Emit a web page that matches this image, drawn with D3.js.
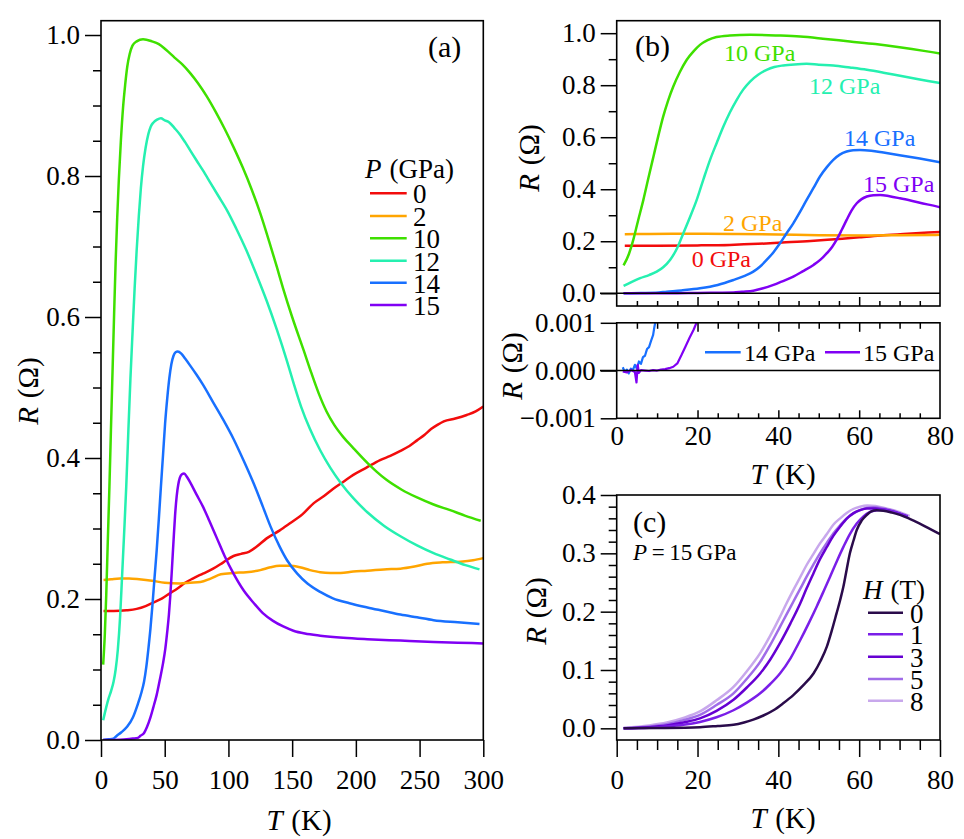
<!DOCTYPE html>
<html><head><meta charset="utf-8">
<script src="https://cdn.jsdelivr.net/npm/d3@7"></script>
<style>
body{margin:0;background:#fff}
svg{display:block}
svg text, svg tspan{font-family:'Liberation Serif', serif !important}
</style>
</head><body><script>
// ---------------- DATA ----------------
// R(T) at pressures (GPa), [T (K), R (ohm)]
const p0 = [[2,0.183],[10,0.183],[20,0.184],[28,0.186],[35,0.19],[41,0.195],[48,0.201],[54,0.208],[60,0.215],[66,0.223],[72,0.229],[80,0.236],[88,0.243],[96,0.252],[104,0.261],[110,0.264],[116,0.267],[122,0.274],[130,0.286],[140,0.297],[148,0.307],[158,0.32],[167,0.336],[175,0.346],[182,0.356],[190,0.366],[198,0.376],[208,0.386],[219,0.397],[227,0.403],[235,0.41],[242,0.417],[248,0.425],[254,0.433],[259,0.441],[264,0.447],[269,0.452],[278,0.456],[287,0.461],[294,0.466],[300,0.473]];
const p2 = [[2,0.227],[8,0.228],[15,0.229],[22,0.229],[30,0.228],[40,0.226],[50,0.223],[62,0.222],[70,0.223],[78,0.224],[86,0.229],[94,0.235],[104,0.237],[114,0.238],[125,0.241],[133,0.245],[140,0.247],[148,0.247],[156,0.245],[164,0.241],[172,0.238],[180,0.237],[188,0.237],[198,0.239],[209,0.24],[222,0.242],[235,0.243],[246,0.246],[256,0.25],[268,0.252],[282,0.253],[292,0.255],[300,0.258]];
const p10 = [[1.7,0.107],[3,0.15],[4.1,0.205],[5.3,0.28],[6.6,0.359],[7.8,0.44],[9.1,0.526],[10.3,0.605],[11.5,0.679],[12.7,0.74],[14,0.795],[15.6,0.85],[17.3,0.897],[19,0.93],[20.6,0.955],[22.5,0.973],[24.7,0.985],[28,0.991],[33,0.994],[40,0.991],[45.4,0.987],[51,0.979],[57.7,0.968],[64,0.958],[70,0.946],[76,0.932],[83,0.913],[90,0.891],[97,0.867],[104,0.841],[111,0.813],[118,0.782],[125,0.747],[132,0.707],[138,0.671],[143,0.64],[150,0.6],[159,0.553],[165,0.521],[171,0.491],[177,0.466],[183,0.447],[190,0.43],[198,0.414],[209,0.393],[216,0.381],[224,0.369],[236,0.355],[248,0.344],[261,0.334],[274,0.326],[286,0.318],[298,0.311]];
const p12 = [[1.7,0.028],[3.5,0.042],[5.8,0.058],[8,0.07],[9.9,0.083],[11.5,0.1],[13.2,0.128],[15,0.175],[16.5,0.231],[18.2,0.295],[19.8,0.359],[21.5,0.44],[23.1,0.513],[24.8,0.58],[26.4,0.641],[28,0.695],[29.7,0.744],[31.3,0.783],[33,0.814],[35,0.84],[37.1,0.859],[39,0.87],[41.2,0.876],[44,0.88],[47,0.882],[50,0.879],[53.6,0.876],[57.7,0.868],[61.9,0.859],[66,0.848],[70.1,0.836],[75,0.822],[80,0.808],[86,0.79],[92,0.772],[99,0.751],[106,0.726],[114,0.695],[122,0.66],[130,0.623],[138,0.582],[145.7,0.539],[151,0.507],[157,0.473],[164,0.441],[172,0.411],[180,0.386],[188,0.365],[198,0.343],[209,0.323],[222,0.304],[235,0.289],[248,0.276],[261,0.265],[274,0.256],[286,0.248],[297,0.242]];
const p14 = [[1.7,0],[6,0.001],[9.7,0.002],[12.4,0.006],[16,0.011],[20.6,0.019],[25,0.032],[28.9,0.051],[31.5,0.066],[33.8,0.083],[35.5,0.103],[37.1,0.128],[38.8,0.158],[40.4,0.192],[42,0.23],[43.7,0.269],[45.4,0.314],[47,0.359],[48.7,0.405],[50.3,0.449],[52,0.485],[53.6,0.513],[55.2,0.533],[56.9,0.545],[58.5,0.55],[60.2,0.551],[63,0.548],[66,0.541],[70,0.531],[75,0.518],[80,0.504],[88,0.479],[96,0.454],[104,0.427],[112,0.396],[120,0.363],[127,0.331],[133,0.303],[140,0.275],[146,0.255],[154,0.236],[162,0.222],[172,0.21],[182,0.201],[195,0.194],[209,0.188],[222,0.183],[235,0.178],[248,0.174],[261,0.17],[280,0.167],[297,0.1645]];
const p15 = [[1.7,0],[15,0.0005],[20,0.001],[25,0.002],[28.9,0.003],[31,0.006],[33.8,0.01],[36,0.018],[38.8,0.032],[41,0.046],[43.7,0.064],[46,0.084],[48.7,0.109],[50.5,0.13],[52,0.154],[53.3,0.178],[54.4,0.205],[55.7,0.244],[56.9,0.282],[58.1,0.318],[59.4,0.346],[60.6,0.362],[61.9,0.372],[63.5,0.377],[65.2,0.378],[67.5,0.373],[70.1,0.365],[75,0.348],[80,0.331],[85,0.311],[91,0.286],[97,0.261],[104,0.236],[112,0.212],[120,0.194],[127,0.18],[135,0.169],[143,0.161],[151,0.155],[160,0.151],[172,0.148],[190,0.145],[209,0.143],[235,0.141],[261,0.139],[280,0.138],[300,0.137]];
const pressureLabels = ["0","2","10","12","14","15"];

// low-resistance zoom (ohm), 14 and 15 GPa
const low14 = [[1.5,0.00007],[2,-0.00003],[2.5,0.00002],[3,-0.00006],[3.5,0.00004],[4,0.00001],[4.5,0.00012],[5,0.00004],[5.5,0.00019],[6,0.00014],[6.5,0.00028],[7,0.00031],[7.5,0.00045],[8,0.00049],[8.5,0.00062],[9,0.00074],[9.3,0.0009],[9.6,0.00103]];
const low15 = [[1.5,-0.00002],[2.5,-0.00004],[3.5,0.00001],[4.5,-0.00003],[4.9,-0.00025],[5.2,0.00012],[5.5,-0.00005],[6,0.00001],[7,0],[8,-0.00001],[9,0.00001],[10,0],[11,0.00002],[12,0.00003],[13,0.00005],[14,0.00008],[15,0.00015],[16,0.00032],[17,0.0005],[18,0.00068],[19,0.00085],[19.8,0.00101]];

// R(T) at 15 GPa in field H (T)
const h0 = [[1.7,0],[10,0.0005],[20.6,0.002],[25,0.004],[28.9,0.006],[31.5,0.01],[33.8,0.015],[36.3,0.022],[38.8,0.031],[41.2,0.043],[43.7,0.057],[46.2,0.074],[48.7,0.094],[50.4,0.115],[52,0.14],[53.2,0.167],[54.4,0.197],[55.3,0.22],[56.1,0.243],[56.9,0.272],[57.7,0.3],[58.6,0.322],[59.4,0.34],[60.6,0.356],[61.9,0.366],[63,0.372],[64.3,0.374],[66,0.373],[68,0.37],[70.1,0.366],[72.5,0.359],[75,0.351],[77.5,0.342],[80,0.333]];
const h1 = [[1.7,0],[8,0.001],[12.4,0.003],[16.5,0.006],[20.6,0.011],[24.7,0.019],[28.9,0.031],[32.2,0.044],[35.5,0.06],[38,0.076],[40.4,0.094],[43,0.12],[45.4,0.151],[47.5,0.18],[49.5,0.209],[51.2,0.235],[52.8,0.26],[54.5,0.287],[56.1,0.311],[57.7,0.333],[59.4,0.351],[61,0.363],[62.7,0.371],[64.3,0.374],[66,0.375],[68,0.372],[70,0.368],[72,0.363]];
const h3 = [[1.7,0],[8,0.002],[12.4,0.005],[16.5,0.01],[20.6,0.017],[24.7,0.03],[28.9,0.049],[32.2,0.07],[35.5,0.094],[38,0.118],[40.4,0.146],[43,0.18],[45.4,0.214],[47,0.24],[48.7,0.266],[50.3,0.29],[52,0.311],[53.6,0.33],[55.3,0.346],[57,0.36],[58.6,0.369],[60.2,0.374],[61.9,0.377],[64,0.377],[66,0.375],[68,0.372],[70,0.368],[72,0.363]];
const h5 = [[1.7,0],[8,0.003],[12.4,0.007],[16.5,0.014],[20.6,0.023],[24.7,0.04],[28.9,0.06],[32.2,0.085],[35.5,0.114],[38,0.143],[40.4,0.174],[42,0.195],[43.7,0.217],[45.4,0.239],[47,0.26],[48.7,0.281],[50.3,0.3],[52,0.318],[53.6,0.334],[55.3,0.348],[56.9,0.36],[58.5,0.368],[60.2,0.374],[62,0.378],[63.5,0.379],[66,0.377],[68,0.374],[70,0.369],[72,0.364]];
const h8 = [[1.7,0.001],[8,0.005],[12.4,0.01],[16.5,0.018],[20.6,0.029],[24.7,0.048],[28.9,0.071],[32.2,0.098],[35.5,0.129],[38,0.159],[40.4,0.191],[42,0.214],[43.7,0.237],[45.4,0.259],[47,0.28],[48.7,0.299],[50.3,0.317],[52,0.333],[53.6,0.349],[55.3,0.36],[56.9,0.369],[58.5,0.376],[60.2,0.38],[62,0.382],[64,0.381],[66,0.378],[68.5,0.374],[71,0.368],[72.5,0.364]];
const fieldLabels = ["0","1","3","5","8"];

const ticksA_x = [0,50,100,150,200,250,300];
const ticksA_y = [0,0.2,0.4,0.6,0.8,1.0];
const ticksB_y = [0,0.2,0.4,0.6,0.8,1.0];
const ticksB2_y = [-0.001,0,0.001];
const ticksT80 = [0,20,40,60,80];
const ticksC_y = [0,0.1,0.2,0.3,0.4];

// ---------------- STYLE ----------------
const FONT = "Liberation Serif, serif";
const pColors = ["#f20c0c","#ffa500","#3fe000","#25f0b0","#1870ff","#8000f4"];
const hColors = ["#2a0b4b","#7a1ee8","#6600d2","#a06ce8","#c8a8ec"];
const pSeries = [p0,p2,p10,p12,p14,p15];
const hSeries = [h0,h1,h3,h5,h8];
const LW = 2.5;

const W = 964, H = 839;
const svg = d3.select("body").append("svg").attr("width",W).attr("height",H).attr("font-family",FONT);

const xa = d3.scaleLinear([0,300],[101,483.3]);
const ya = d3.scaleLinear([0,1.0203],[740,20.7]);
const xb = d3.scaleLinear([0,80],[616.7,940]);
const yb = d3.scaleLinear([-0.049,1.048],[306,20.7]);
const yb2 = d3.scaleLinear([-0.001,0.001],[418.3,322.8]);
const yc = d3.scaleLinear([-0.02,0.4],[740,495]);

const defs = svg.append("defs");
function clip(id,x,y){
  defs.append("clipPath").attr("id",id).append("rect")
    .attr("x",x.range()[0]).attr("y",y.range()[1])
    .attr("width",x.range()[1]-x.range()[0]).attr("height",y.range()[0]-y.range()[1]);
}
clip("ca",xa,ya); clip("cb",xb,yb); clip("cb2",xb,yb2); clip("cc",xb,yc);

function styleAxis(g,fs){
  g.attr("font-family",FONT).attr("font-size",fs||27);
  g.select(".domain").remove();
  g.selectAll("line").attr("stroke","#000").attr("stroke-width",1.5);
  g.selectAll("text").attr("font-family",FONT).attr("font-size",fs||27).attr("fill","#000");
}
function addAxis(axis,tx,ty,fs){
  const g = svg.append("g").attr("transform",`translate(${tx},${ty})`).call(axis);
  styleAxis(g,fs); return g;
}
function frame(x,y){
  svg.append("rect").attr("x",x.range()[0]).attr("y",y.range()[1])
    .attr("width",x.range()[1]-x.range()[0]).attr("height",y.range()[0]-y.range()[1])
    .attr("fill","none").attr("stroke","#000").attr("stroke-width",1.6);
}
function drawLine(data,x,y,color,clipId,w,curve){
  const line = d3.line().x(d=>x(d[0])).y(d=>y(d[1])).curve(curve||d3.curveMonotoneX);
  svg.append("path").datum(data).attr("d",line).attr("fill","none")
    .attr("stroke",color).attr("stroke-width",w||LW).attr("stroke-linejoin","round")
    .attr("clip-path",`url(#${clipId})`);
}
function mathLabel(x,y,italic,rest,fs,rotate,anchor){
  const t = svg.append("text").attr("transform",`translate(${x},${y})${rotate?" rotate(-90)":""}`)
    .attr("text-anchor",anchor||"middle").attr("dominant-baseline","central")
    .attr("font-size",fs).attr("font-family",FONT);
  t.append("tspan").attr("font-style","italic").text(italic);
  t.append("tspan").attr("dx",fs*0.3).text(rest);
  return t;
}
function label(x,y,str,fs,color,anchor){
  return svg.append("text").attr("x",x).attr("y",y).attr("text-anchor",anchor||"start")
    .attr("dominant-baseline","central").attr("font-size",fs).attr("font-family",FONT)
    .attr("fill",color||"#000").text(str);
}
const f1 = d3.format(".1f");
const minorRange = (a,b,s,skip)=>d3.range(a,b+s/2,s).filter(v=>!skip.some(m=>Math.abs(m-v)<1e-9));

// ---------------- PANEL (a) ----------------
pSeries.forEach((s,i)=>drawLine(s,xa,ya,pColors[i],"ca"));
frame(xa,ya);
addAxis(d3.axisLeft(ya).tickValues(minorRange(0,1.0,0.05,ticksA_y)).tickSize(8).tickFormat(""),101,0);
addAxis(d3.axisLeft(ya).tickValues(ticksA_y).tickSize(16).tickPadding(5).tickFormat(f1),101,0);
addAxis(d3.axisBottom(xa).tickValues(ticksA_x).tickSize(17).tickPadding(13).tickFormat(d3.format("d")),0,740);
mathLabel(28,391,"R","(Ω)",29,true);
mathLabel(299,820,"T","(K)",29,false);
label(428,46,"(a)",30);
// legend
mathLabel(365,169.3,"P","(GPa)",27,false,"start");
const legY = [193.3,216,238.3,260.7,282.7,305];
pressureLabels.forEach((l,i)=>{
  svg.append("line").attr("x1",370).attr("x2",406.7).attr("y1",legY[i]).attr("y2",legY[i])
    .attr("stroke",pColors[i]).attr("stroke-width",LW);
  label(413,legY[i]+1,l,27);
});

// ---------------- PANEL (b) top ----------------
pSeries.forEach((s,i)=>drawLine(s.filter(d=>d[0]<=90),xb,yb,pColors[i],"cb"));
svg.append("line").attr("x1",600).attr("x2",940).attr("y1",yb(0)).attr("y2",yb(0)).attr("stroke","#000").attr("stroke-width",1.5);
frame(xb,yb);
addAxis(d3.axisLeft(yb).tickValues([0.1,0.3,0.5,0.7,0.9]).tickSize(8).tickFormat(""),616.7,0);
addAxis(d3.axisLeft(yb).tickValues(ticksB_y).tickSize(16).tickPadding(5).tickFormat(f1),616.7,0);
addAxis(d3.axisTop(xb).tickValues(minorRange(5,75,5,[20,40,60])).tickSize(5).tickFormat(""),0,306);
addAxis(d3.axisTop(xb).tickValues([20,40,60]).tickSize(9).tickFormat(""),0,306);
mathLabel(529,158,"R","(Ω)",29,true);
label(635,45,"(b)",30);
const annB = [["10 GPa",724,53.3,2],["12 GPa",809,86,3],["14 GPa",844,138.3,4],["15 GPa",863,184,5],["2 GPa",723,222.7,1],["0 GPa",691.7,259.3,0]];
annB.forEach(a=>label(a[1],a[2],a[0],24,pColors[a[3]]));

// ---------------- PANEL (b) bottom ----------------
drawLine(low14,xb,yb2,pColors[4],"cb2",2.2,d3.curveLinear);
drawLine(low15,xb,yb2,pColors[5],"cb2",2.2,d3.curveLinear);
svg.append("line").attr("x1",600).attr("x2",940).attr("y1",yb2(0)).attr("y2",yb2(0)).attr("stroke","#000").attr("stroke-width",1.5);
frame(xb,yb2);
addAxis(d3.axisLeft(yb2).tickValues(ticksB2_y).tickSize(16).tickPadding(5).tickFormat(d=>d<0?"\u2212"+d3.format(".3f")(-d):d3.format(".3f")(d)),616.7,0);
addAxis(d3.axisBottom(xb).tickValues(minorRange(5,75,5,[20,40,60])).tickSize(6).tickFormat(""),0,322.8);
addAxis(d3.axisBottom(xb).tickValues([20,40,60]).tickSize(9).tickFormat(""),0,322.8);
addAxis(d3.axisTop(xb).tickValues(minorRange(5,75,5,[20,40,60])).tickSize(5).tickFormat(""),0,418.3);
addAxis(d3.axisTop(xb).tickValues([20,40,60]).tickSize(8).tickFormat(""),0,418.3);
addAxis(d3.axisBottom(xb).tickValues(ticksT80).tickSize(0).tickPadding(8).tickFormat(d3.format("d")),0,418.3);
mathLabel(512,366,"R","(Ω)",29,true);
mathLabel(783,474,"T","(K)",29,false);
svg.append("line").attr("x1",705).attr("x2",740.7).attr("y1",352.3).attr("y2",352.3).attr("stroke",pColors[4]).attr("stroke-width",LW);
label(744,353,"14 GPa",24);
svg.append("line").attr("x1",825).attr("x2",860).attr("y1",352.3).attr("y2",352.3).attr("stroke",pColors[5]).attr("stroke-width",LW);
label(863,353,"15 GPa",24);

// ---------------- PANEL (c) ----------------
for(let i=hSeries.length-1;i>=0;i--) drawLine(hSeries[i],xb,yc,hColors[i],"cc");
frame(xb,yc);
addAxis(d3.axisLeft(yc).tickValues(minorRange(0,0.4,0.02,ticksC_y)).tickSize(8).tickFormat(""),616.7,0);
addAxis(d3.axisLeft(yc).tickValues(ticksC_y).tickSize(16).tickPadding(5).tickFormat(f1),616.7,0);
addAxis(d3.axisBottom(xb).tickValues(minorRange(5,75,5,[20,40,60])).tickSize(10).tickFormat(""),0,740);
addAxis(d3.axisBottom(xb).tickValues(ticksT80).tickSize(17).tickPadding(13).tickFormat(d3.format("d")),0,740);
mathLabel(536,611,"R","(Ω)",29,true);
mathLabel(783,818,"T","(K)",29,false);
label(633,521,"(c)",30);
const pl = svg.append("text").attr("x",633).attr("y",552).attr("dominant-baseline","central")
  .attr("font-size",23).attr("font-family",FONT);
pl.append("tspan").attr("font-style","italic").text("P");
pl.append("tspan").text("\u2009=\u200915\u2009GPa");
mathLabel(863,590,"H","(T)",27,false,"start");
const legC = [612.7,634.3,656.7,679,700.7];
fieldLabels.forEach((l,i)=>{
  svg.append("line").attr("x1",868).attr("x2",903).attr("y1",legC[i]).attr("y2",legC[i])
    .attr("stroke",hColors[i]).attr("stroke-width",LW);
  label(910,legC[i]+1,l,27);
});
</script></body></html>
